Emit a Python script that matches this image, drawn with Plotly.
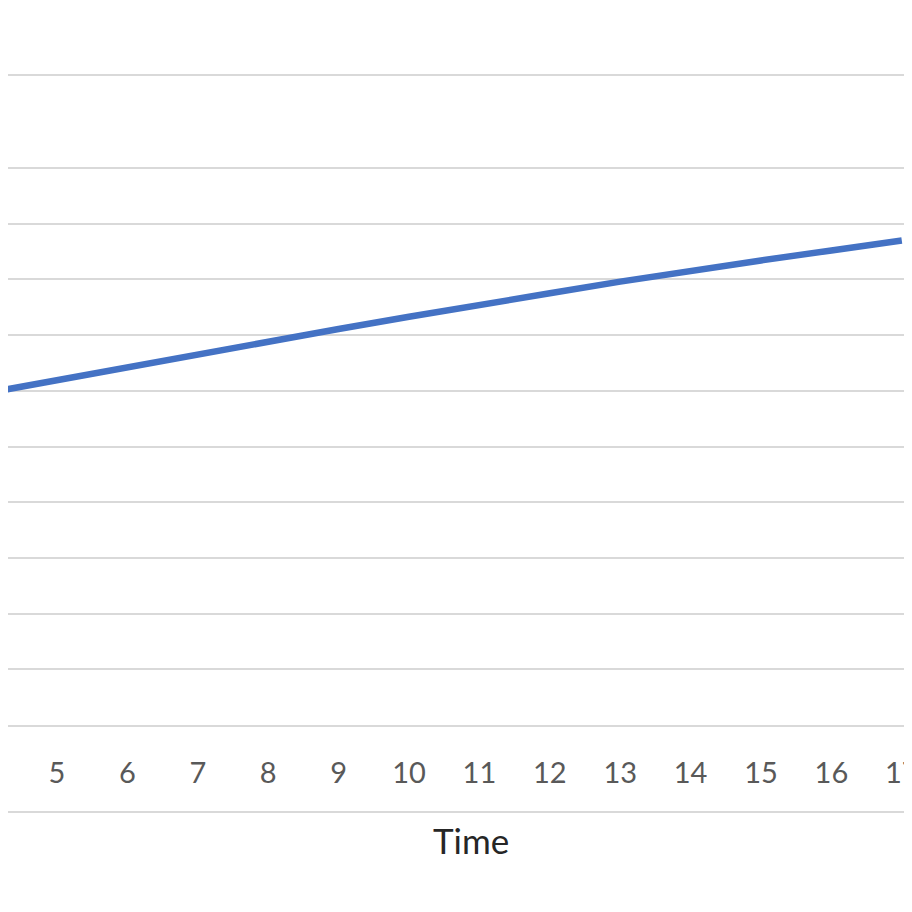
import plotly.graph_objects as go

# Data (y in arbitrary gridline units)
time = [4, 5, 6, 7, 8, 9, 10, 11, 12, 13, 14, 15, 16, 17]
values = [5.96, 6.19, 6.42, 6.66, 6.90, 7.11, 7.33, 7.55, 7.75, 7.96, 8.16, 8.34, 8.52, 8.70]
x_ticks = list(range(4, 18))
y_grid = [1, 2, 3, 4, 5, 6, 7, 8, 9, 10]

# page body has an 8px default margin; compensate
OFF = 8
W, H = 912 - OFF, 912 - 2 * OFF
top, bottom = 75 - OFF, 725 - OFF
px_per_unit = 55.7
x_step = 70.4
x5 = 57 - OFF

x_left = 5 - x5 / x_step
x_right = x_left + W / x_step
y_top = (bottom - top) / px_per_unit
plot_h = bottom - top
low_line = -((812 - OFF) - bottom) / plot_h
title_y = -((840 - OFF) - bottom) / plot_h
title_x = (471 - OFF) / W

fig = go.Figure()
fig.add_trace(go.Scatter(
    x=time, y=values, mode="lines",
    line=dict(color="#4472C4", width=6.5),
    hoverinfo="skip", showlegend=False,
))

grid_col = "#d9d9d9"
fig.update_layout(
    width=W, height=H,
    margin=dict(l=0, r=0, t=top, b=H - bottom, autoexpand=False),
    paper_bgcolor="white", plot_bgcolor="white",
    font=dict(family="Lato, Open Sans, sans-serif"),
    xaxis=dict(
        range=[x_left, x_right], tickvals=x_ticks,
        ticktext=[str(t) for t in x_ticks],
        showgrid=False, zeroline=False, automargin=False,
        showline=True, linecolor=grid_col, linewidth=2,
        ticks="", ticklabelstandoff=21, ticklabeloverflow="allow",
        tickfont=dict(size=29, color="#595959"),
    ),
    yaxis=dict(
        range=[0, y_top], tickvals=y_grid, showticklabels=False,
        showgrid=True, gridcolor=grid_col, gridwidth=2, automargin=False,
        zeroline=False, showline=False,
    ),
    annotations=[
        dict(text="Time", xref="paper", yref="paper", x=title_x, y=title_y,
             xanchor="center", yanchor="middle", showarrow=False,
             font=dict(size=35, color="#262626")),
    ],
    shapes=[
        dict(type="line", xref="paper", yref="paper", x0=0, x1=1, y0=1, y1=1,
             line=dict(color=grid_col, width=2)),
        dict(type="line", xref="paper", yref="paper", x0=0, x1=1,
             y0=low_line, y1=low_line,
             line=dict(color=grid_col, width=2)),
    ],
)

fig.write_html("out.html")
